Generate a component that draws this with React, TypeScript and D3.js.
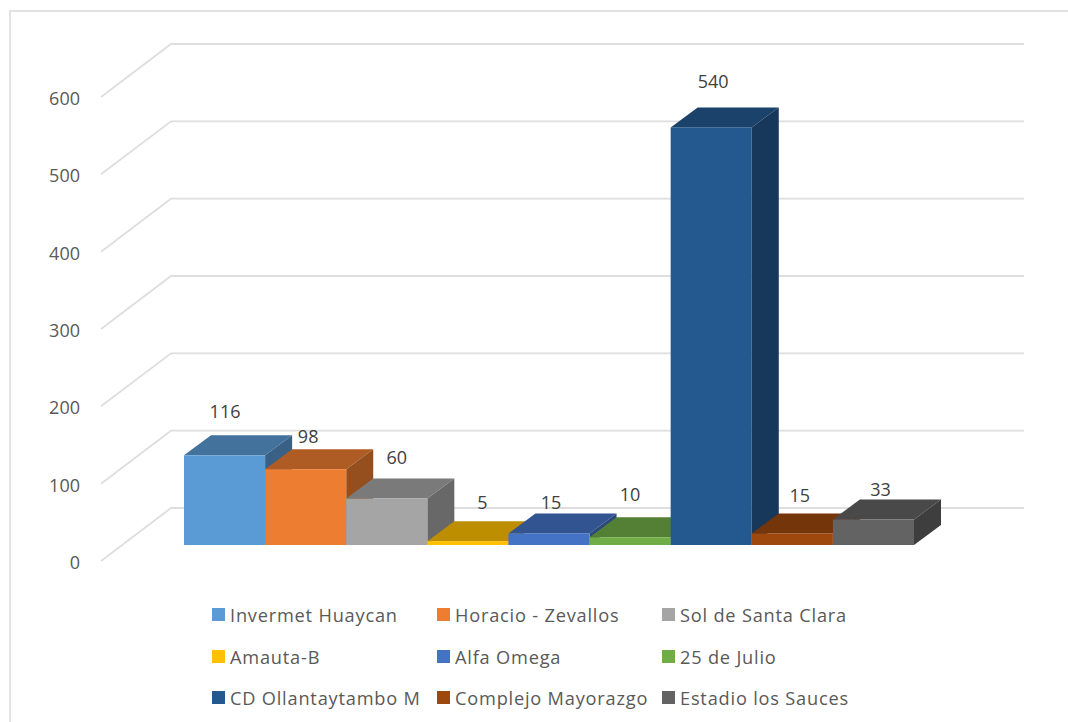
import React from "react";
import * as d3 from "d3";

const names = ["Invermet Huaycan","Horacio - Zevallos","Sol de Santa Clara","Amauta-B","Alfa Omega","25 de Julio","CD Ollantaytambo M","Complejo Mayorazgo","Estadio los Sauces"];
const values = [116,98,60,5,15,10,540,15,33];
const colors = ["#5b9bd5","#ed7d31","#a5a5a5","#ffc000","#4472c4","#70ad47","#24598f","#9e480e","#636363"];
const ticks = [0,100,200,300,400,500,600];
const labelDx = [0.5,2.5,10,14.5,2,0,2,7.5,7];
const labelDy = [0,11,2.5,5,13,1,-2,6,13.5];

const FONT = "'Open Sans', 'Noto Sans', sans-serif";

export default function App() {
  const x = d3.scaleBand<string>().domain(names).range([184, 914]).padding(0);
  const y = d3.scaleLinear().domain([0, 600]).range([545, 81]);
  const dx = 27, dy = -20;
  const wallDx = 70, wallDy = -53;
  const wallX0 = 101, wallX1 = wallX0 + wallDx, wallX2 = 1024;
  const floorFront = 561;
  const tickY = (t: number) => floorFront + (y(t) - y(0));
  const dark = (c: string, k: number) => d3.rgb(c).darker(k).formatHex();

  return (
    <svg width={1068} height={722} style={{ position: "absolute", left: 0, top: 0, background: "#fff" }}>
      <path d="M10 722V11H1068" fill="none" stroke="#e2e2e2" strokeWidth={2} />
      {ticks.map((t) => (
        <g key={t}>
          <polyline
            points={`${wallX0},${tickY(t)} ${wallX1},${tickY(t) + wallDy} ${wallX2},${tickY(t) + wallDy}`}
            fill="none" stroke="#dedede" strokeWidth={1.8}
          />
          <text x={80} y={tickY(t) + 8} textAnchor="end" fontFamily={FONT} fontSize={18} fill="#595959">{t}</text>
        </g>
      ))}
      {names.map((n, i) => {
        const x0 = x(n)!, w = x.bandwidth(), top = y(values[i]), base = y(0), c = colors[i];
        return (
          <g key={n}>
            <polygon points={`${x0},${top} ${x0 + dx},${top + dy} ${x0 + w + dx},${top + dy} ${x0 + w},${top}`} fill={dark(c, 0.85)} />
            <polygon points={`${x0 + w},${top} ${x0 + w + dx},${top + dy} ${x0 + w + dx},${base + dy} ${x0 + w},${base}`} fill={dark(c, 1.3)} />
            <rect x={x0} y={top} width={w} height={base - top} fill={c} />
          </g>
        );
      })}
      {names.map((n, i) => (
        <text key={n} x={x(n)! + x.bandwidth() / 2 + labelDx[i]} y={y(values[i]) - 37 + labelDy[i]} textAnchor="middle" fontFamily={FONT} fontSize={18} fill="#404040">{values[i]}</text>
      ))}
      {names.map((n, i) => {
        const lx = 212 + (i % 3) * 225;
        const ly = [615, 657, 698][Math.floor(i / 3)];
        return (
          <g key={n}>
            <rect x={lx} y={ly - 7} width={13} height={13} fill={colors[i]} />
            <text x={lx + 18} y={ly + 7} fontFamily={FONT} fontSize={18.2} letterSpacing={0.8} fill="#595959">{n}</text>
          </g>
        );
      })}
    </svg>
  );
}
